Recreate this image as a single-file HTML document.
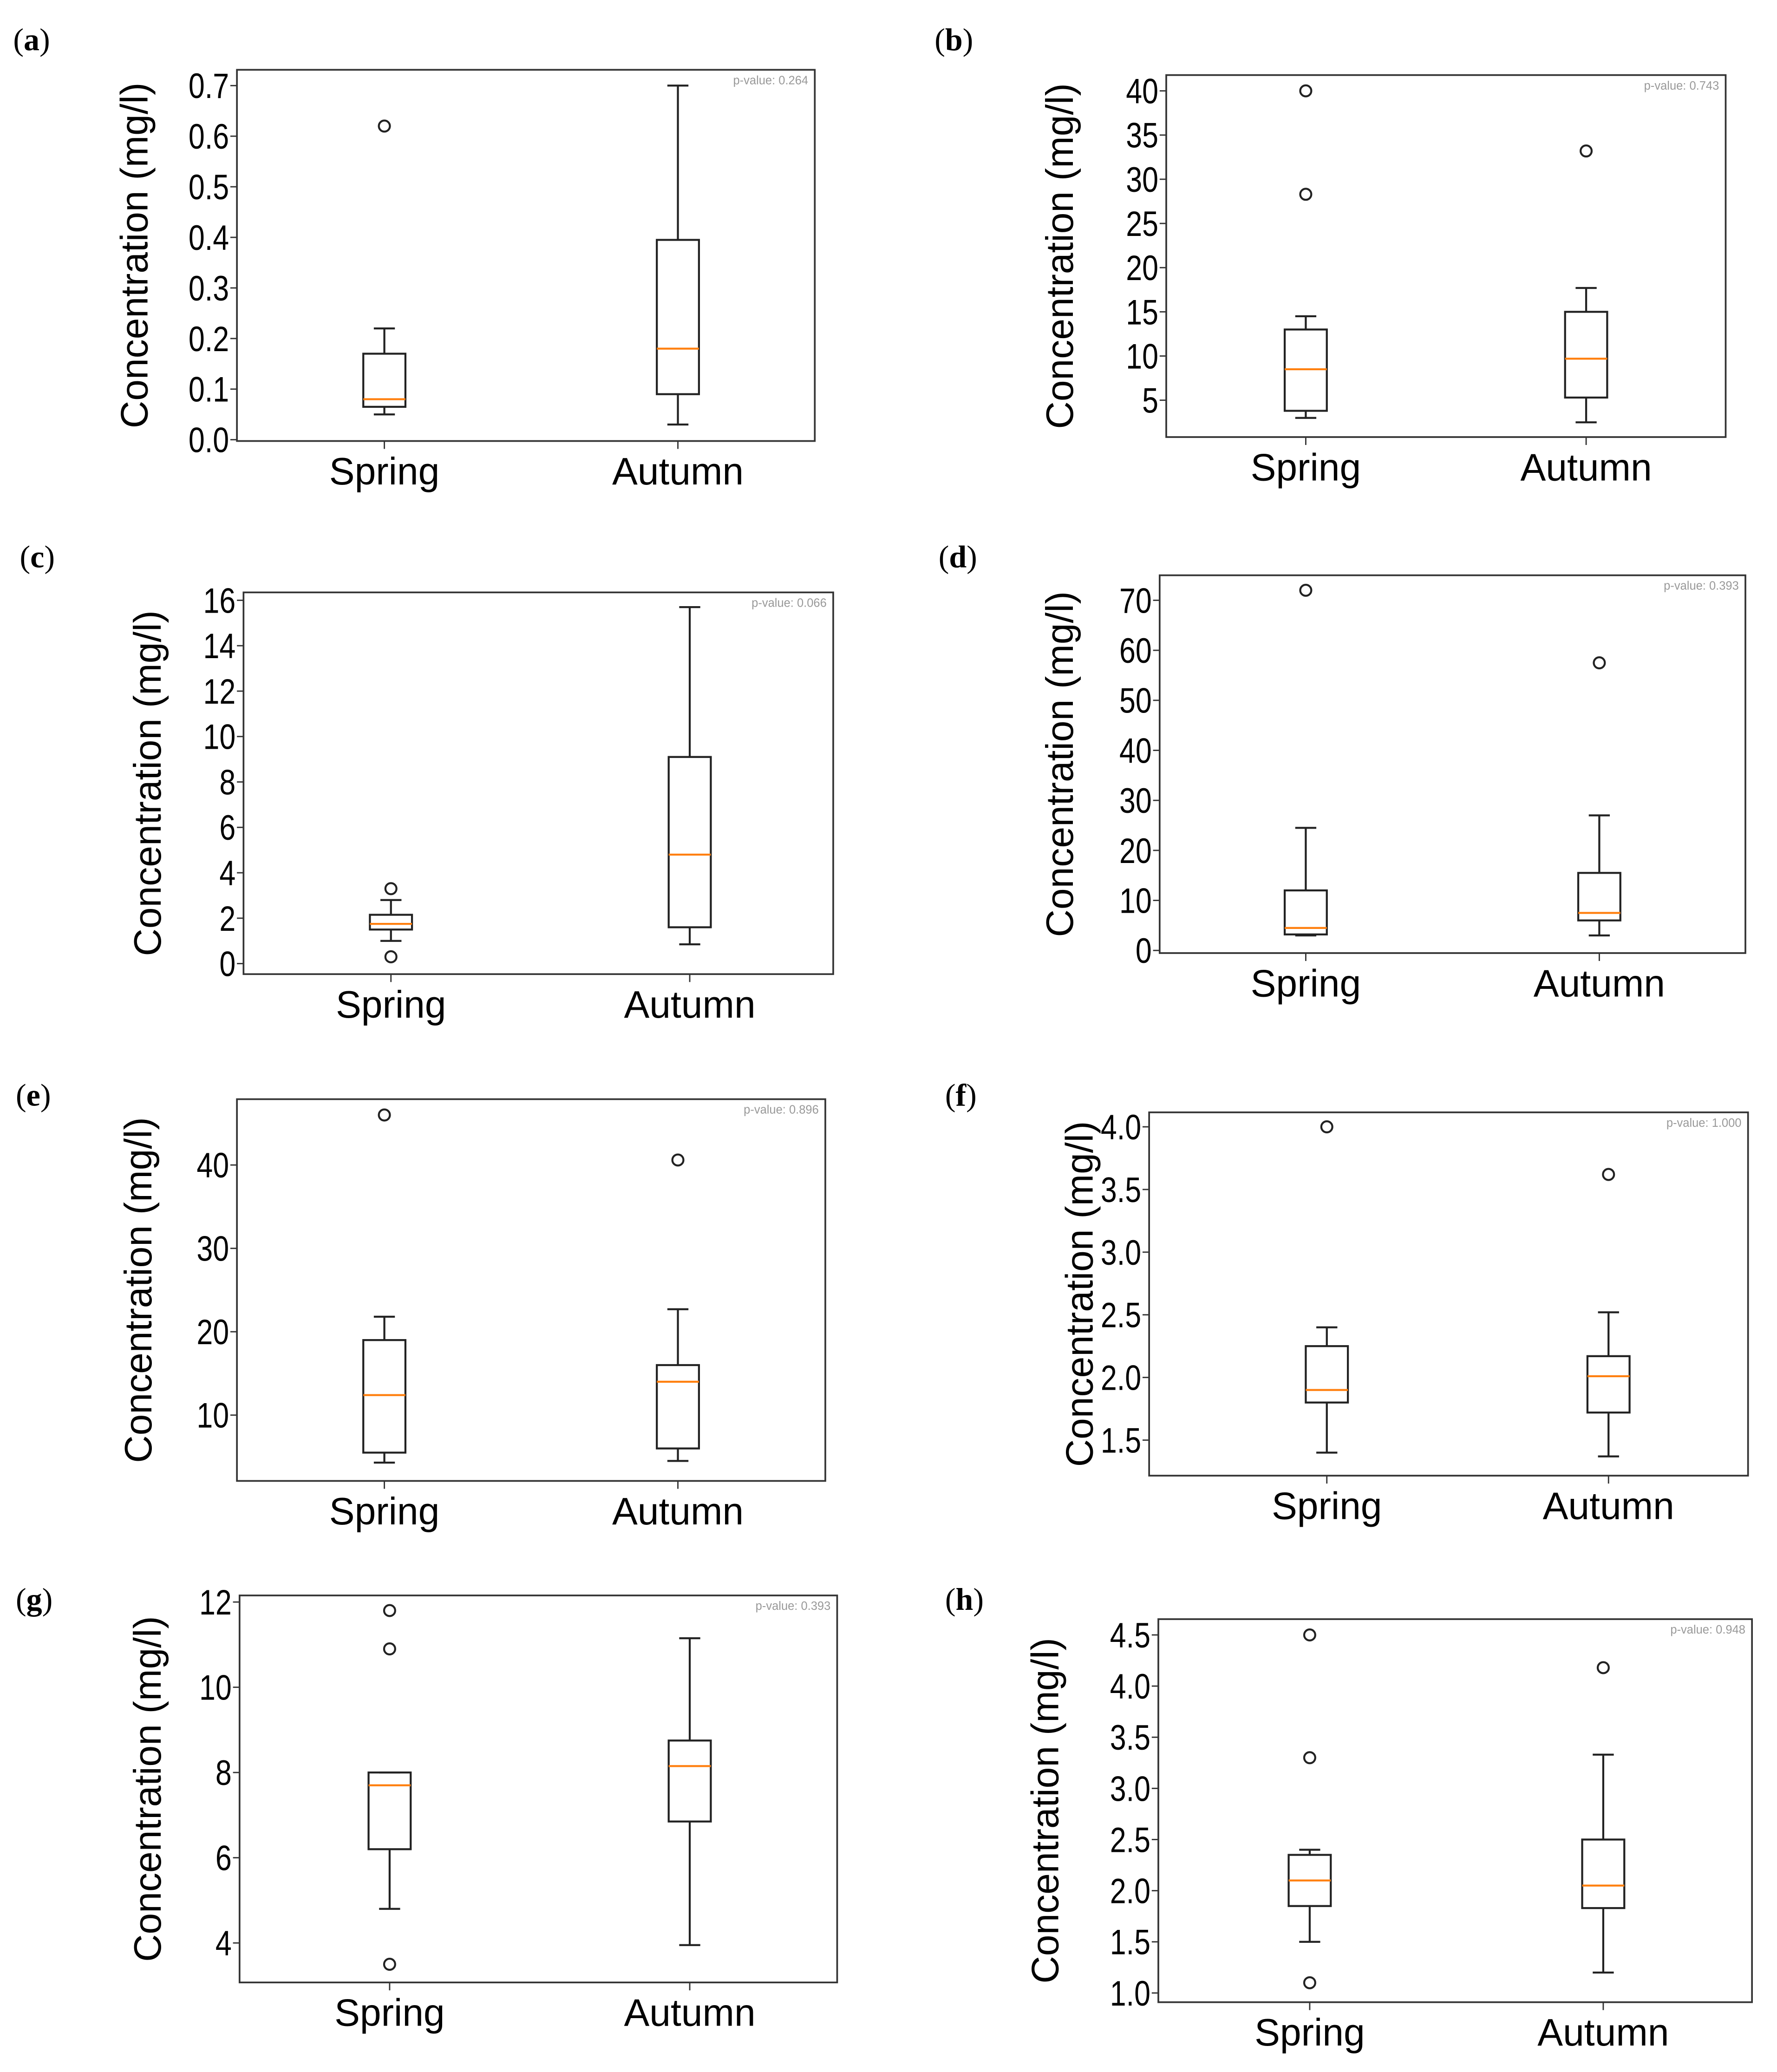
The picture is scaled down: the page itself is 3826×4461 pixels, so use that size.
<!DOCTYPE html>
<html><head><meta charset="utf-8"><style>
html,body{margin:0;padding:0;background:#fff}
svg{display:block}
</style></head><body>
<svg id="fig" width="3826" height="4461" viewBox="0 0 1350 1574" xmlns="http://www.w3.org/2000/svg" font-family="Liberation Sans, sans-serif"></svg>
<script>
const panelLetters=["a","b","c","d","e","f","g","h"];
const categories=["Spring","Autumn"];
const pValues=["0.264","0.743","0.066","0.393","0.896","1.000","0.393","0.948"];
// stats per panel: [whislo,q1,med,q3,whishi] for Spring, Autumn
const springStats=[[0.05,0.065,0.08,0.17,0.22],[3,3.8,8.5,13,14.5],[1.0,1.5,1.75,2.15,2.8],[3,3.2,4.5,12,24.5],[4.3,5.5,12.4,19,21.8],[1.4,1.8,1.9,2.25,2.4],[4.8,6.2,7.7,8.0,8.0],[1.5,1.85,2.1,2.35,2.4]];
const autumnStats=[[0.03,0.09,0.18,0.395,0.70],[2.5,5.3,9.7,15,17.7],[0.85,1.6,4.8,9.1,15.7],[3,6,7.5,15.5,27],[4.5,6,14,16,22.7],[1.37,1.72,2.01,2.17,2.52],[3.95,6.85,8.15,8.75,11.15],[1.2,1.83,2.05,2.5,3.33]];
const springOutliers=[[0.62],[40,28.3],[3.3,0.3],[72],[46],[4.0],[11.8,10.9,3.5],[4.5,3.3,1.1]];
const autumnOutliers=[[],[33.2],[],[57.5],[40.6],[3.62],[],[4.18]];
const tickLabels=[["0.0","0.1","0.2","0.3","0.4","0.5","0.6","0.7"],["5","10","15","20","25","30","35","40"],["0","2","4","6","8","10","12","14","16"],["0","10","20","30","40","50","60","70"],["10","20","30","40"],["1.5","2.0","2.5","3.0","3.5","4.0"],["4","6","8","10","12"],["1.0","1.5","2.0","2.5","3.0","3.5","4.0","4.5"]];
// layout (not data)
const L=[
 {x0:180,x1:619,y0:53,y1:335,v0:0,p0:334,v1:0.7,p1:65,cx:[292,515],yl:112,lx:10,ly:38},
 {x0:886,x1:1311,y0:57,y1:332,v0:5,p0:304,v1:40,p1:69,cx:[992,1205],yl:815,lx:710,ly:38},
 {x0:185,x1:633,y0:450,y1:740,v0:0,p0:732,v1:16,p1:456,cx:[297,524],yl:122,lx:15,ly:431},
 {x0:881,x1:1326,y0:437,y1:724,v0:0,p0:722,v1:70,p1:456,cx:[992,1215],yl:815,lx:713,ly:431},
 {x0:180,x1:627,y0:835,y1:1125,v0:10,p0:1075,v1:40,p1:885,cx:[292,515],yl:115,lx:12,ly:840},
 {x0:873,x1:1328,y0:845,y1:1121,v0:1.5,p0:1094,v1:4.0,p1:856,cx:[1008,1222],yl:830,lx:718,ly:840},
 {x0:182,x1:636,y0:1212,y1:1506,v0:4,p0:1476,v1:12,p1:1217,cx:[296,524],yl:122,lx:12,ly:1223},
 {x0:880,x1:1331,y0:1230,y1:1521,v0:1.0,p0:1514,v1:4.5,p1:1242,cx:[995,1218],yl:804,lx:718,ly:1223}
];
const NS="http://www.w3.org/2000/svg";
const svg=document.getElementById('fig');
function mk(tag,attrs,parent,txt){const e=document.createElementNS(NS,tag);for(const k in attrs)e.setAttribute(k,attrs[k]);if(txt!==undefined)e.textContent=txt;parent.appendChild(e);return e;}
L.forEach((l,i)=>{
 const g=mk('g',{},svg);
 
 
 const y=v=>l.p0+(v-l.v0)*(l.p1-l.p0)/(l.v1-l.v0);
 const lab=mk('text',{x:l.lx,y:l.ly,'font-family':'Liberation Serif, serif','font-size':24},g);
 
 
 lab.innerHTML='(<tspan font-weight="bold">'+panelLetters[i]+'</tspan>)';
 const fr=mk('rect',{x:l.x0,y:l.y0,width:l.x1-l.x0,height:l.y1-l.y0,fill:'none',stroke:'#333','stroke-width':1.3},g);
 
 
 const pv=mk('text',{x:l.x1-5,y:l.y0+11,'text-anchor':'end','font-size':9,fill:'#999'},g,'p-value: '+pValues[i]);
 
 
 tickLabels[i].forEach(t=>{
  const py=y(parseFloat(t));
  mk('line',{x1:l.x0-5,x2:l.x0,y1:py,y2:py,stroke:'#333','stroke-width':1},g);
  const tt=mk('text',{x:0,y:0,'text-anchor':'end','font-size':27,transform:`translate(${l.x0-6},${py+9.5}) scale(0.82,1)`},g,t);
  
  
 });
 const yt=mk('text',{x:0,y:0,'text-anchor':'middle','font-size':29,transform:`translate(${l.yl},${(l.y0+l.y1)/2}) rotate(-90)`},g,'Concentration (mg/l)');
 
 
 [springStats[i],autumnStats[i]].forEach((s,j)=>{
  const cx=l.cx[j], w=16;
  mk('line',{x1:cx,x2:cx,y1:l.y1,y2:l.y1+6,stroke:'#333','stroke-width':1},g);
  const xl=mk('text',{x:cx,y:l.y1+33,'text-anchor':'middle','font-size':29},g,categories[j]);
  
  
  const bg=mk('g',{stroke:'#222','stroke-width':1.5,fill:'none'},g);
  
  
  mk('line',{x1:cx,x2:cx,y1:y(s[0]),y2:y(s[1])},bg);
  mk('line',{x1:cx,x2:cx,y1:y(s[3]),y2:y(s[4])},bg);
  mk('line',{x1:cx-w/2,x2:cx+w/2,y1:y(s[0]),y2:y(s[0])},bg);
  mk('line',{x1:cx-w/2,x2:cx+w/2,y1:y(s[4]),y2:y(s[4])},bg);
  mk('rect',{x:cx-w,y:y(s[3]),width:2*w,height:y(s[1])-y(s[3])},bg);
  mk('line',{x1:cx-w,x2:cx+w,y1:y(s[2]),y2:y(s[2]),stroke:'#ff7f0e'},bg);
  [springOutliers[i],autumnOutliers[i]][j].forEach(o=>{
   const c=mk('circle',{cx:cx,cy:y(o),r:4.2},bg);
   
   
  });
 });
});
</script>
</body></html>
